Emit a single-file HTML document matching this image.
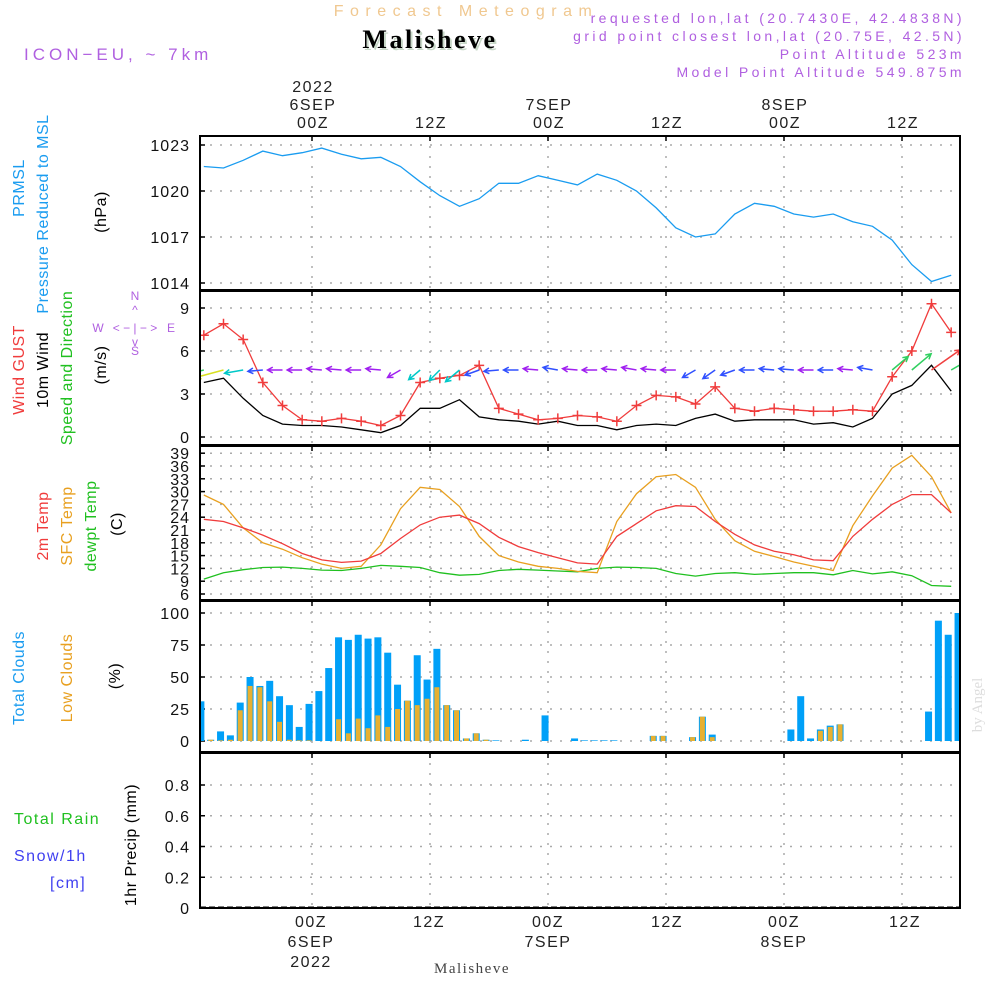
<!DOCTYPE html>
<html><head><meta charset="utf-8"><style>
html,body{margin:0;padding:0;background:#fff;}
svg{display:block;font-family:"Liberation Sans",sans-serif;}
</style></head><body>
<svg id="chart" width="1000" height="1000" viewBox="0 0 1000 1000" xmlns="http://www.w3.org/2000/svg">
<g id="static">
<text x="466" y="16" font-size="16" fill="#f0c890" text-anchor="middle" letter-spacing="6.5">Forecast Meteogram</text>
<text x="432" y="50" font-size="26" font-weight="bold" font-family="Liberation Serif,serif" fill="#c8d8c8" text-anchor="middle" letter-spacing="2.5">Malisheve</text>
<text x="430" y="48" font-size="26" font-weight="bold" font-family="Liberation Serif,serif" fill="#000" text-anchor="middle" letter-spacing="2.5">Malisheve</text>
<text x="24" y="60" font-size="17" fill="#b060e0" letter-spacing="4">ICON−EU, ~ 7km</text>
<g font-size="14" fill="#b060e0" text-anchor="end" letter-spacing="3.4">
<text x="965" y="23">requested lon,lat (20.7430E, 42.4838N)</text>
<text x="965" y="41">grid point closest lon,lat (20.75E, 42.5N)</text>
<text x="965" y="59">Point Altitude 523m</text>
<text x="965" y="77">Model Point Altitude 549.875m</text>
</g>
<g font-size="16" fill="#222" text-anchor="middle" letter-spacing="1.5">
<text x="313" y="92">2022</text><text x="313" y="110">6SEP</text><text x="313" y="128">00Z</text>
<text x="431" y="128">12Z</text>
<text x="549" y="110">7SEP</text><text x="549" y="128">00Z</text>
<text x="667" y="128">12Z</text>
<text x="785" y="110">8SEP</text><text x="785" y="128">00Z</text>
<text x="903" y="128">12Z</text>
</g>
<g font-size="16" fill="#222" text-anchor="middle" letter-spacing="1.5">
<text x="311" y="927">00Z</text><text x="311" y="947">6SEP</text><text x="311" y="967">2022</text>
<text x="429" y="927">12Z</text>
<text x="548" y="927">00Z</text><text x="548" y="947">7SEP</text>
<text x="667" y="927">12Z</text>
<text x="784" y="927">00Z</text><text x="784" y="947">8SEP</text>
<text x="905" y="927">12Z</text>
</g>
<text x="472" y="973" font-size="15" font-family="Liberation Serif,serif" fill="#444" text-anchor="middle" letter-spacing="1.5">Malisheve</text>
<text transform="translate(982,705) rotate(-90)" font-size="15" font-family="Liberation Serif,serif" fill="#ddd" text-anchor="middle">by Angel</text>
<g font-size="16" text-anchor="middle" letter-spacing="0.5">
<text transform="translate(24,188) rotate(-90)" fill="#1a9cf0">PRMSL</text>
<text transform="translate(48,214) rotate(-90)" fill="#1a9cf0">Pressure Reduced to MSL</text>
<text transform="translate(106,212) rotate(-90)" fill="#000">(hPa)</text>
<text transform="translate(24,370) rotate(-90)" fill="#f03c3c">Wind GUST</text>
<text transform="translate(48,370) rotate(-90)" fill="#000">10m Wind</text>
<text transform="translate(72,368) rotate(-90)" fill="#20c020">Speed and Direction</text>
<text transform="translate(106,365) rotate(-90)" fill="#000">(m/s)</text>
<text transform="translate(48,526) rotate(-90)" fill="#f03c3c">2m Temp</text>
<text transform="translate(72,526) rotate(-90)" fill="#e8a020">SFC Temp</text>
<text transform="translate(96,526) rotate(-90)" fill="#20c020">dewpt Temp</text>
<text transform="translate(122,524) rotate(-90)" fill="#000">(C)</text>
<text transform="translate(24,678) rotate(-90)" fill="#1a9cf0">Total Clouds</text>
<text transform="translate(72,678) rotate(-90)" fill="#e8a020">Low Clouds</text>
<text transform="translate(120,676) rotate(-90)" fill="#000">(%)</text>
<text transform="translate(136,845) rotate(-90)" fill="#000">1hr Precip (mm)</text>
</g>
<g font-size="16" letter-spacing="1.5">
<text x="14" y="824" fill="#20c020">Total  Rain</text>
<text x="14" y="861" fill="#4040f0">Snow/1h</text>
<text x="50" y="888" fill="#4040f0">[cm]</text>
</g>
<g fill="#b060e0" font-size="12" text-anchor="middle">
<text x="135" y="300">N</text><text x="135" y="314">^</text><text x="135" y="355">S</text><text x="135" y="346">v</text>
<text x="98" y="332">W</text><text x="171" y="332">E</text>
<text x="135" y="332">&lt; − | − &gt;</text>
</g>
</g>
<g id="plot"></g>
</svg>
<script>
// ---- data ----
const hours2 = [-11,-9,-7,-5,-3,-1,1,3,5,7,9,11,13,15,17,19,21,23,25,27,29,31,33,35,37,39,41,43,45,47,49,51,53,55,57,59,61,63,65];
const pressure = [1021.6,1021.5,1022,1022.6,1022.3,1022.5,1022.8,1022.4,1022.1,1022.2,1021.6,1020.6,1019.7,1019,1019.5,1020.5,1020.5,1021,1020.7,1020.4,1021.1,1020.7,1020,1018.9,1017.6,1017,1017.2,1018.5,1019.2,1019,1018.5,1018.3,1018.5,1018,1017.7,1016.8,1015.2,1014.1,1014.5];
const gust = [7.1,7.9,6.8,3.8,2.2,1.2,1.1,1.3,1.1,0.8,1.5,3.8,4.1,4.3,5.0,2.0,1.6,1.2,1.3,1.5,1.4,1.1,2.2,2.9,2.8,2.3,3.5,2.0,1.8,2.0,1.9,1.8,1.8,1.9,1.8,4.2,6.0,9.3,7.3];
const wind10 = [3.8,4.1,2.7,1.5,0.9,0.8,0.8,0.7,0.5,0.3,0.8,2.0,2.0,2.6,1.4,1.2,1.1,0.9,1.1,0.8,0.8,0.5,0.8,0.9,0.8,1.3,1.6,1.1,1.2,1.2,1.2,0.9,1.0,0.7,1.3,3.0,3.6,5.0,3.2];
const windDir = [75,75,80,85,90,90,95,95,90,95,60,50,45,50,70,85,90,95,100,95,90,95,100,95,90,60,55,70,90,95,95,90,90,95,100,230,230,235,240];
const temp2m = [23.5,23,21.5,19.8,17.8,15.5,14,13.4,13.7,15.5,19,22.2,24,24.5,22.5,19.3,17.1,15.7,14.5,13.3,13,19.5,22.5,25.5,26.7,26.5,23,20,17.5,16,15.2,14,13.8,19.5,23.5,27,29.3,29.3,25];
const tempSfc = [29.2,27,21.5,18,16.5,14.5,13,12,12.5,17.5,26,31,30.5,26.5,19.5,15,13.5,12.5,12,11.3,11,23,29.5,33.5,34,31,23.5,18.5,16,14.8,13.5,12.5,11.5,22,29,35.5,38.5,33.5,25];
const dewpt = [9.5,11,11.7,12.2,12.3,12,11.6,11.5,12,12.7,12.5,12.2,11,10.4,10.6,11.5,11.8,11.6,11.4,11.2,12,12.3,12.2,12,10.8,10.2,10.8,11,10.6,10.8,11,11,10.5,11.5,10.7,11.2,10.3,8,7.8];
const cloudStart = -11.3;
const totalClouds = [31,1,7.5,4.4,30,50,43,47,35,28,11,29,39,57,81,79,83,80,81,69,44,31.5,67,48,72,28,24,2,6,1,0.5,0,0,1,0,20,0,0,2,0.5,0.5,0.5,0.5,0,0,0,4,4,0,0,3,19,5,0,0,0,0,0,0,0,9,35,2,9,12,13,0,0,0,0,0,0,0,0,23,94,83,100];
const lowClouds = [0,1,0.5,1,24,43,42,31,15,1,0.5,0.5,0,0,17,6,17.5,10,20,11,25,31.5,28,33,42,28,24,2,6,1,0,0,0,0,0,0,0,0,0,0,0,0,0,0,0,0,4,4,0,0,3,19,3,0,0,0,0,0,0,0,0,0,0,8,11,13,0,0,0,0,0,0,0,0,0,0,0,0];
const precip = [];
const pTicks = [1014,1017,1020,1023];
const wTicks = [0,3,6,9];
const tTicks = [6,9,12,15,18,21,24,27,30,33,36,39];
const cTicks = [0,25,50,75,100];
const rTicks = [0,0.2,0.4,0.6,0.8];
const vHours = [0,12,24,36,48,60];

// ---- axes ----
const X0=200, X1=960;
const xs = h => 312 + h*118/12;
const panels = {
  p:{top:136,bot:290,y:v=>191-(v-1020)*46/3},
  w:{top:291,bot:445,y:v=>437-v*43/3},
  t:{top:446,bot:600,y:v=>594-(v-6)*12.8/3},
  c:{top:601,bot:752,y:v=>741-v*1.28},
  r:{top:753,bot:908,y:v=>908-v*153.75}
};
const NS="http://www.w3.org/2000/svg";
const plot=document.getElementById('plot');
function el(tag,attrs,parent){const e=document.createElementNS(NS,tag);for(const k in attrs)e.setAttribute(k,attrs[k]);(parent||plot).appendChild(e);return e;}
function path(pts){return pts.map((p,i)=>(i?'L':'M')+p[0].toFixed(1)+','+p[1].toFixed(1)).join('');}

function drawPanel(key,ticks,fmt){
  const P=panels[key];
  const g=el('g',{});
  
  
  const clip=el('clipPath',{id:'clip-'+key},g);
  el('rect',{x:X0,y:P.top,width:X1-X0,height:P.bot-P.top},clip);
  ticks.forEach(v=>{
    const y=P.y(v);
    const gl=el('line',{x1:X0,x2:X1,y1:y,y2:y,stroke:'#aaa','stroke-width':1.5,'stroke-dasharray':'2 8'},g);
    
    
    el('line',{x1:X0,x2:X0+5,y1:y,y2:y,stroke:'#000','stroke-width':1.5},g);
    const t=el('text',{x:190,y:y+6,'font-size':16,'text-anchor':'end',fill:'#111','letter-spacing':1},g);
    t.textContent=fmt?fmt(v):v;
    
    
  });
  vHours.forEach(h=>{
    const x=xs(h);
    el('line',{x1:x,x2:x,y1:P.top,y2:P.bot,stroke:'#aaa','stroke-width':1.5,'stroke-dasharray':'2 8'},g);
    el('line',{x1:x,x2:x,y1:P.top,y2:P.top+5,stroke:'#000','stroke-width':1.5},g);
  });
  return g;
}
function border(key){const P=panels[key];
  const b=el('rect',{x:X0,y:P.top,width:X1-X0,height:P.bot-P.top,fill:'none',stroke:'#000','stroke-width':2});
  
  
}
function line(key,hs,vals,color,name,w){
  const P=panels[key];
  const p=el('path',{d:path(hs.map((h,i)=>[xs(h),P.y(vals[i])])),fill:'none',stroke:color,'stroke-width':w||1.3,'clip-path':'url(#clip-'+key+')'});
  
  
  return p;
}

// pressure
drawPanel('p',pTicks);
line('p',hours2,pressure,'#1a9cf0','pressure-line');
border('p');

// wind
drawPanel('w',wTicks);
line('w',hours2,wind10,'#000','wind-10m-line');
line('w',hours2,gust,'#f03c3c','wind-gust-line');
hours2.forEach((h,i)=>{
  const x=xs(h),y=panels.w.y(gust[i]);
  const m=el('path',{d:`M${x-5},${y}h10M${x},${y-5}v10`,stroke:'#f03c3c','stroke-width':1.5,fill:'none','clip-path':'url(#clip-w)'});
  
  
});
function spdColor(s){return s<1?'#a020f0':s<2?'#3050ff':s<3?'#00c8c8':s<4?'#30d060':s<4.6?'#d8e020':s<5?'#f09030':'#f04040';}
hours2.forEach((h,i)=>{
  const s=wind10[i], d=windDir[i]*Math.PI/180;
  const len=Math.max(15,s*7);
  const x0=xs(h), y0=370;
  const dx=-Math.sin(d)*len, dy=Math.cos(d)*len;
  const x1=x0+dx,y1=y0+dy;
  const a=Math.atan2(dy,dx);
  const hx1=x1-6*Math.cos(a-0.5),hy1=y1-6*Math.sin(a-0.5),hx2=x1-6*Math.cos(a+0.5),hy2=y1-6*Math.sin(a+0.5);
  const ar=el('path',{d:`M${x0},${y0}L${x1},${y1}M${hx1},${hy1}L${x1},${y1}L${hx2},${hy2}`,stroke:spdColor(s),'stroke-width':1.5,fill:'none','clip-path':'url(#clip-w)'});
  
  
});
border('w');

// temperature
drawPanel('t',tTicks);
line('t',hours2,dewpt,'#20c020','dewpoint-line');
line('t',hours2,tempSfc,'#e8a020','sfc-temp-line');
line('t',hours2,temp2m,'#f03c3c','temp-2m-line');
border('t');

// clouds
drawPanel('c',cTicks);
totalClouds.forEach((v,i)=>{
  const P=panels.c,x=xs(cloudStart+i);
  const b=el('rect',{x:x-3.5,y:P.y(v),width:7,height:P.y(0)-P.y(v),fill:'#00a0f8','clip-path':'url(#clip-c)'});
  
  
});
lowClouds.forEach((v,i)=>{
  const P=panels.c,x=xs(cloudStart+i);
  if(v<=0)return;
  const b=el('rect',{x:x-2.5,y:P.y(v),width:5,height:P.y(0)-P.y(v),fill:'#e8b030','clip-path':'url(#clip-c)'});
  
  
});
border('c');

// precip
drawPanel('r',rTicks,v=>v===0?'0':v.toFixed(1));
precip.forEach((v,i)=>{
  const P=panels.r,x=xs(cloudStart+i);
  const b=el('rect',{x:x-3.5,y:P.y(v),width:7,height:P.y(0)-P.y(v),fill:'#20c020'});
  
  
});
el('line',{x1:X0,x2:X1,y1:907,y2:907,stroke:'#000','stroke-width':1,'stroke-dasharray':'6 3'});
border('r');
</script>
</body></html>
